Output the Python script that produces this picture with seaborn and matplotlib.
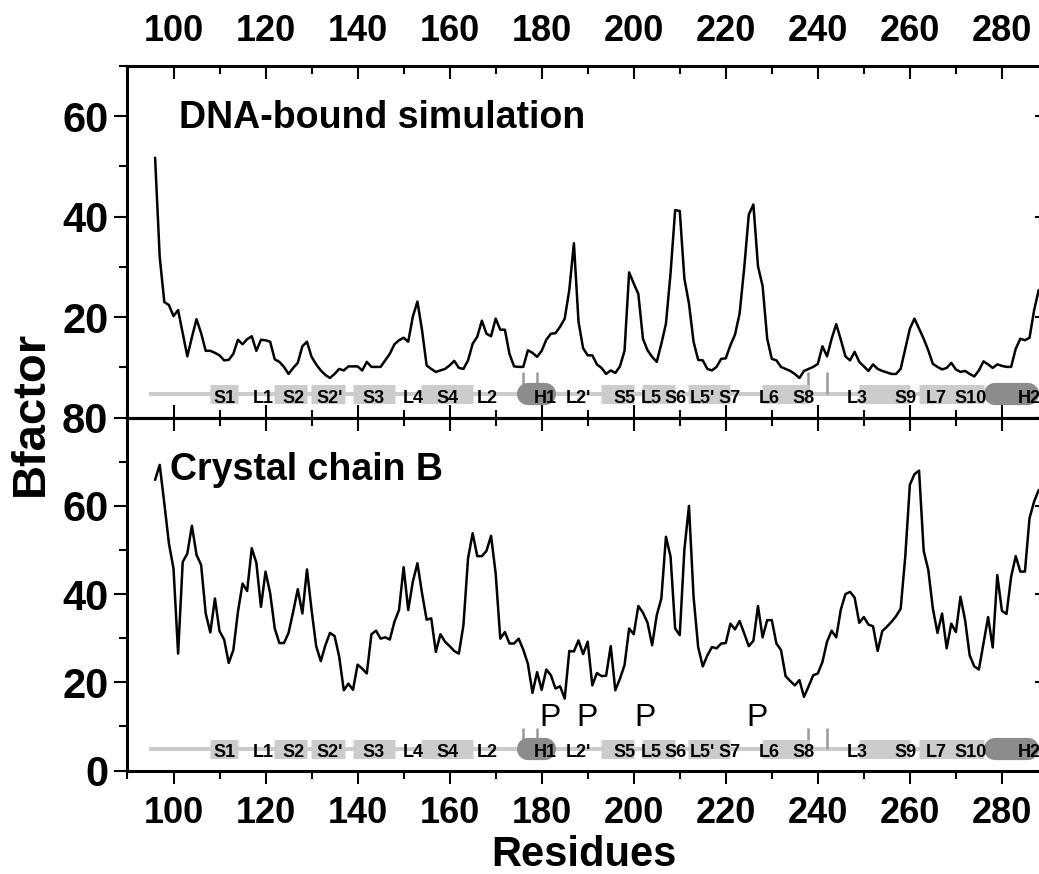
import numpy as np
import pandas as pd
import matplotlib
matplotlib.use("Agg")
import matplotlib.pyplot as plt
from matplotlib.ticker import MultipleLocator, FixedLocator
import seaborn as sns

# ==============================
# DATA
# ==============================
res_sim = np.arange(96, 289)
bf_sim = [
    51.7, 32, 23, 22.4, 20.2, 21.4, 16.8, 12.2, 16, 19.6,
    16.8, 13.3, 13.3, 12.9, 12.4, 11.4, 11.5, 12.7, 15.5, 14.6,
    15.6, 16.2, 13.3, 15.5, 15.4, 15.1, 11.6, 11.1, 10.1, 8.7,
    9.9, 10.9, 14.2, 15.1, 12.1, 10.6, 9.4, 8.5, 7.9, 8.7,
    9.7, 9.4, 10.2, 10.2, 10.2, 9.4, 11.1, 10.1, 10.1, 10.1,
    11.4, 12.7, 14.6, 15.4, 15.9, 15.1, 20.1, 23.1, 17.4, 10.4,
    9.7, 9.1, 9.4, 9.7, 10.4, 11.3, 9.9, 9.7, 11.4, 14.7,
    16.1, 19.3, 16.7, 16.2, 19.7, 17.5, 17.5, 12.7, 10.2, 10.1,
    10.1, 13.4, 12.9, 12.1, 13.3, 15.5, 16.7, 16.8, 18.1, 19.7,
    25.4, 34.7, 19.1, 13.8, 12.4,
    12.4, 10.6, 9.9, 8.7, 9.4, 8.9, 10.2, 13.3, 28.9, 26.7,
    24.6, 15.7, 13.4, 12.1, 11.1, 14.7, 18.7, 28.7, 41.3, 41.1,
    27.7, 22.7, 15.1, 11.5, 11.4, 9.7, 9.4, 10.1, 11.7, 11.8,
    14.4, 16.5, 20.7, 29.7, 40.4, 42.4, 30.1, 26.2, 15.7, 11.7,
    11.4, 10.1, 9.7, 9.3, 8.7, 7.9, 9.3, 9.7, 10.1, 10.7,
    14.2, 12.2, 15.7, 18.6, 15.5, 12.2, 11.4, 13.1, 11.1, 10.2,
    9.3, 10.6, 9.7, 9.3, 9.0, 8.7, 8.7, 9.7, 13.7, 17.7,
    19.7, 17.7, 15.7, 13.4, 10.7, 10.1, 9.6, 9.9, 10.9, 9.6,
    9.1, 9.3, 8.7, 8.2, 9.4, 11.2, 10.6, 9.9, 10.6, 10.3,
    10.1, 10.1, 13.7, 15.7, 15.4, 15.9, 21.4, 25.4,
]

res_xtal = np.arange(96, 289)
bf_xtal = [
    65.9, 69.3, 60.6, 51.5, 45.8, 26.5, 47.3, 49.2, 55.5, 48.9,
    46.6, 35.6, 31.3, 39, 31.6, 29.7, 24.4, 27.3, 36, 42.4,
    40.7, 50.4, 47.1, 37.1, 45.1, 40.2, 32.2, 28.9, 28.9, 31.2,
    36, 41.1, 35.6, 45.6, 36.4, 28.2, 24.8, 28.4, 31.2, 30.5,
    25.8, 18.2, 19.7, 18.3, 24, 23.1, 22, 30.9, 31.7, 29.9,
    30.2, 29.7, 33.7, 36.4, 46.1, 36.4, 42.8, 47, 40.2, 34.2,
    34.5, 26.9, 30.9, 29.2, 28.2, 27.1, 26.5, 33, 48.1, 53.8,
    48.6, 48.6, 49.8, 53.2, 44.7, 29.9, 31.4, 28.8, 28.8, 29.9,
    27.4, 24.2, 17.6, 22.3, 18.3, 22.9, 21.6, 18.6, 19.1, 16.3,
    27.1, 27, 29.5,
    26.4, 29.2, 19.3, 22.1, 21.4, 21.5, 28.2, 18.2, 20.8, 23.9,
    32.2, 30.9, 37.3, 35.8, 33.5, 28.4, 35.2, 39, 53, 48.5,
    32.2, 30.7, 50, 60, 39.4, 28, 23.6, 26.1, 28, 27.7,
    28.8, 28.9, 33.3, 32, 33.9, 31.1, 28.2, 29.4, 37.3, 30.2,
    34.1, 34.1, 28.8, 27.3, 21.4, 20.3, 19.3, 20.5, 16.7, 19.1,
    21.6, 22, 24.6, 29.2, 31.7, 30.2, 36.5, 40, 40.5, 39.2,
    33.5, 34.8, 33.1, 32.7, 27.1, 31.6, 32.6, 33.7, 35, 36.7,
    48.5, 64.8, 67.2, 68, 49.8, 45.5, 36.7, 31.2, 35.6, 27.7,
    33.3, 31.4, 39.4, 34.1, 26.1, 23.6, 22.9, 28.8, 34.8, 27.9,
    44.3, 36.2, 35.5, 43.9, 48.6, 45.1, 45.1, 57.2, 61, 63.6,
]

# secondary structure (residue spans)
sheet_start = [108, 121.9, 129.9, 138.9, 153.8, 192.9, 201.8, 211.9, 227.9, 248.9, 261.9]
sheet_end = [114.1, 129.1, 137.2, 148.2, 165.0, 200.1, 209.0, 221.0, 238.0, 260.1, 276.0]
helix_start = [174.6, 276.0]
helix_end = [183.2, 288.0]
marker_res = [175.9, 179.0, 237.9, 242.0]
ss_labels = ["S1", "L1", "S2", "S2'", "S3", "L4", "S4", "L2", "H1", "L2'", "S5",
             "L5", "S6", "L5'", "S7", "L6", "S8", "L3", "S9", "L7", "S10", "H2"]
ss_label_res = [111, 119.6, 126.1, 133.9, 143.5, 152, 159.5, 168.1, 180.8, 188, 198,
                203.7, 209, 214.9, 220.8, 229.4, 236.9, 248.6, 259.1, 265.7, 273.2, 286]
p_res = [181.8, 189.8, 202.5, 226.8]

# ==============================
# STYLE
# ==============================
sns.set_theme(style="ticks", rc={
    "axes.edgecolor": "black",
    "axes.linewidth": 2.2,
    "xtick.color": "black",
    "ytick.color": "black",
    "text.color": "black",
})
plt.rcParams['font.family'] = ['Liberation Sans', 'DejaVu Sans']
plt.rcParams['font.weight'] = 'bold'

fig = plt.figure(figsize=(10.39, 8.74), dpi=100)
ax1 = fig.add_axes([0.1227, 0.5221, 0.8859, 0.4027])
ax2 = fig.add_axes([0.1227, 0.1184, 0.8859, 0.4037])

df_sim = pd.DataFrame({"Residue": res_sim, "Bfactor": bf_sim})
df_xtal = pd.DataFrame({"Residue": res_xtal, "Bfactor": bf_xtal})

sns.lineplot(data=df_sim, x="Residue", y="Bfactor", ax=ax1, color="black",
             lw=1.8, estimator=None, zorder=3)
sns.lineplot(data=df_xtal, x="Residue", y="Bfactor", ax=ax2, color="black",
             lw=1.8, estimator=None, zorder=3)

ax1.set_xlim(90, 290)
ax1.set_ylim(0, 70)
ax2.set_xlim(90, 290)
ax2.set_ylim(0, 80)


# ==============================
# TOPOLOGY STRIP
# ==============================
def draw_topology(ax, marker_top):
    x0 = ax.transData.transform([(0, 0)])[0][0]
    x1 = ax.transData.transform([(1, 0)])[0][0]
    cap = 8 * fig.dpi / 72 / (x1 - x0)
    ax.hlines(4.8, 94.7, 292, color="#cccccc", lw=2.9, zorder=1)
    ax.vlines(marker_res, 4.8, marker_top, color="#999999", lw=1.8, zorder=1)
    ax.hlines([4.8] * len(sheet_start), sheet_start, sheet_end,
              color="#cccccc", lw=13.7, capstyle="butt", zorder=2)
    ax.hlines([4.8] * len(helix_start), np.array(helix_start) + cap,
              np.array(helix_end) - cap, color="#8c8c8c", lw=16,
              capstyle="round", zorder=2)
    for lab, x in zip(ss_labels, ss_label_res):
        ax.text(x, 3.0, lab, ha="center", va="baseline", fontsize=13,
                fontweight="bold", zorder=4)


draw_topology(ax1, 9.1)
draw_topology(ax2, 9.6)

for x in p_res:
    ax2.text(x, 10.1, "P", ha="center", va="baseline", fontsize=23,
             fontweight="normal")

ax1.text(101.3, 57.7, "DNA-bound simulation", fontsize=27, va="baseline")
ax2.text(99.3, 65.9, "Crystal chain B", fontsize=27, va="baseline")

# ==============================
# AXES / TICKS
# ==============================
for ax in (ax1, ax2):
    ax.set_xlabel("")
    ax.set_ylabel("")
    ax.xaxis.set_major_locator(MultipleLocator(20))
    ax.xaxis.set_minor_locator(MultipleLocator(10))
    ax.tick_params(which="both", width=1.5)
    ax.tick_params(axis="x", labelsize=26)
    ax.tick_params(axis="y", labelsize=30)
    ax.tick_params(which="major", length=9.4)
    ax.tick_params(which="minor", length=5.5)

ax1.yaxis.set_major_locator(FixedLocator([20, 40, 60]))
ax1.yaxis.set_minor_locator(FixedLocator([10, 30, 50, 70]))
ax2.yaxis.set_major_locator(FixedLocator([0, 20, 40, 60, 80]))
ax2.yaxis.set_minor_locator(FixedLocator([10, 30, 50, 70]))

ax1.tick_params(axis="x", which="both", direction="in", top=True, bottom=True,
                labeltop=True, labelbottom=False, pad=12)
ax2.tick_params(axis="x", which="both", direction="out", top=False, bottom=True,
                pad=9)
for ax in (ax1, ax2):
    ax.tick_params(axis="y", which="both", direction="out", left=True,
                   right=False, pad=4.3)

# inward ticks on the top of the lower panel and on the right spines
sec_x = ax2.secondary_xaxis("top")
sec_x.xaxis.set_major_locator(MultipleLocator(20))
sec_x.xaxis.set_minor_locator(MultipleLocator(10))
sec_x.tick_params(which="both", direction="in", labeltop=False, width=1.5)
sec_x.tick_params(which="major", length=9.4)
sec_x.tick_params(which="minor", length=5.5)

for ax, majors in ((ax1, [20, 40, 60]), (ax2, [0, 20, 40, 60, 80])):
    sec_y = ax.secondary_yaxis("right")
    sec_y.yaxis.set_major_locator(FixedLocator(majors))
    sec_y.yaxis.set_minor_locator(FixedLocator([10, 30, 50, 70]))
    sec_y.tick_params(which="both", direction="in", labelright=False, width=1.5)
    sec_y.tick_params(which="major", length=9.4)
    sec_y.tick_params(which="minor", length=5.5)

fig.text(0.030, 0.527, "Bfactor", rotation=90, ha="center", va="center",
         fontsize=34)
fig.text(0.562, 0.009, "Residues", ha="center", va="baseline", fontsize=30)

fig.savefig("out.png", dpi=100)
